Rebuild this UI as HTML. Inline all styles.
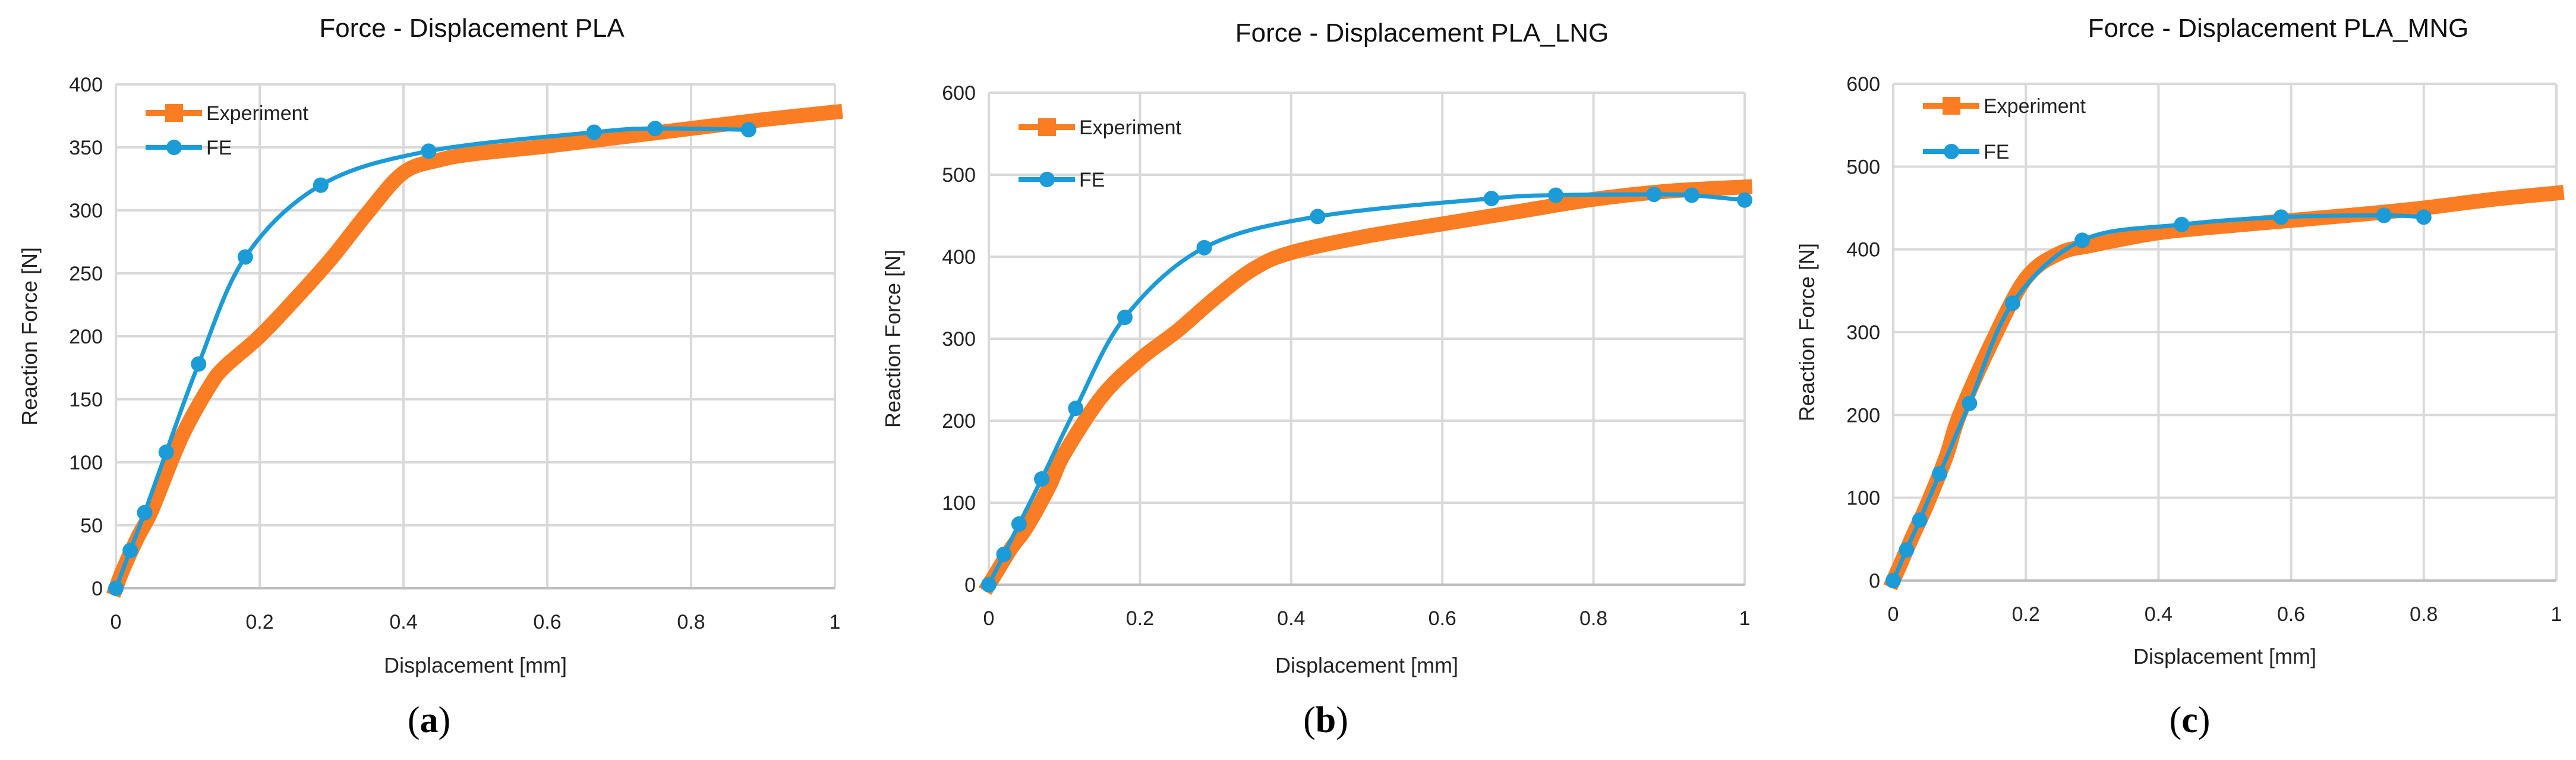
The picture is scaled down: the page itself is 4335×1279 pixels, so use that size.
<!DOCTYPE html>
<html><head><meta charset="utf-8"><style>
html,body{margin:0;padding:0;background:#fff;}
svg{display:block;font-family:"Liberation Sans",sans-serif;}
</style></head><body>
<svg id="fig" width="4335" height="1279" viewBox="0 0 4335 1279" xmlns="http://www.w3.org/2000/svg"></svg>
<script>
// Panel a data
const expA_x = [0,0.01,0.03,0.05,0.08,0.1,0.13,0.15,0.2,0.25,0.3,0.35,0.4,0.45,0.5,0.6,0.7,0.8,0.9,1.0];
const expA_y = [0,15,40,62,105,130,160,175,200,230,262,298,330,340,345,351,358,365,372,378];
const feA_x = [0,0.02,0.04,0.07,0.115,0.18,0.285,0.435,0.665,0.75,0.88];
const feA_y = [0,30,60,108,178,263,320,347,362,365,364];
// Panel b data
const expB_x = [0,0.01,0.03,0.05,0.08,0.1,0.15,0.2,0.25,0.3,0.35,0.4,0.5,0.6,0.7,0.8,0.9,1.0];
const expB_y = [0,15,45,70,120,160,230,275,310,350,385,405,425,440,455,470,480,485];
const feB_x = [0,0.02,0.04,0.07,0.115,0.18,0.285,0.435,0.665,0.75,0.88,0.93,1.0];
const feB_y = [0,37,74,129,215,326,411,449,471,475,476,475,469];
// Panel c data
const expC_x = [0,0.01,0.03,0.05,0.08,0.1,0.15,0.2,0.25,0.3,0.4,0.5,0.6,0.7,0.8,0.9,1.0];
const expC_y = [0,18,55,90,150,200,290,365,395,405,420,428,435,442,450,460,468];
const feC_x = [0,0.02,0.04,0.07,0.115,0.18,0.285,0.435,0.585,0.74,0.8];
const feC_y = [0,37,73,129,214,335,411,430,439,441,439];
// Tick labels
const xTicks = [0,0.2,0.4,0.6,0.8,1];
const yTicksA = [0,50,100,150,200,250,300,350,400];
const yTicksBC = [0,100,200,300,400,500,600];

const NS = "http://www.w3.org/2000/svg";
const svg = document.getElementById('fig');
function mk(tag, attrs, parent){
  const e = document.createElementNS(NS, tag);
  for (const k in attrs) e.setAttribute(k, attrs[k]);
  (parent||svg).appendChild(e);
  return e;
}
function smoothPath(pts){
  let d = `M${pts[0][0]},${pts[0][1]}`;
  for (let i=0;i<pts.length-1;i++){
    const p0=pts[i-1]||pts[i], p1=pts[i], p2=pts[i+1], p3=pts[i+2]||p2;
    const c1x=p1[0]+(p2[0]-p0[0])/6, c1y=p1[1]+(p2[1]-p0[1])/6;
    const c2x=p2[0]-(p3[0]-p1[0])/6, c2y=p2[1]-(p3[1]-p1[1])/6;
    d += ` C${c1x},${c1y} ${c2x},${c2y} ${p2[0]},${p2[1]}`;
  }
  return d;
}
const panels = [
  {id:'a', title:'Force - Displacement PLA', x0:195, x1:1405, yTop:142, yBot:990, yMax:400, yTicks:yTicksA,
   ex:expA_x, ey:expA_y, fx:feA_x, fy:feA_y, titleX:794, titleY:62, yTitleX:62, xTitleY:1132, labelX:722, labelY:1232, l1:48, gap:58},
  {id:'b', title:'Force - Displacement PLA_LNG', x0:1664, x1:2936, yTop:156, yBot:984, yMax:600, yTicks:yTicksBC,
   ex:expB_x, ey:expB_y, fx:feB_x, fy:feB_y, titleX:2393, titleY:70, yTitleX:1515, xTitleY:1132, labelX:2231, labelY:1232, l1:58, gap:88},
  {id:'c', title:'Force - Displacement PLA_MNG', x0:3186, x1:4302, yTop:141, yBot:977, yMax:600, yTicks:yTicksBC,
   ex:expC_x, ey:expC_y, fx:feC_x, fy:feC_y, titleX:3834, titleY:62, yTitleX:3053, xTitleY:1117, labelX:3685, labelY:1232, l1:37, gap:77}
];
panels.forEach(p=>{
  const g = mk('g',{});
  
  
  const sx = v => p.x0 + v*(p.x1-p.x0);
  const sy = v => p.yBot - v/p.yMax*(p.yBot-p.yTop);
  p.yTicks.forEach(t=>{
    const l = mk('line',{x1:p.x0,x2:p.x1,y1:sy(t),y2:sy(t),stroke:'#d9d9d9','stroke-width':4},g);
    
    
    const tx = mk('text',{x:p.x0-22,y:sy(t)+12,'text-anchor':'end','font-size':34,fill:'#222'},g);
    tx.textContent = t;
    
    
  });
  xTicks.forEach(t=>{
    const l = mk('line',{x1:sx(t),x2:sx(t),y1:p.yTop,y2:p.yBot,stroke:'#d9d9d9','stroke-width':4},g);
    
    
    const tx = mk('text',{x:sx(t),y:p.yBot+68,'text-anchor':'middle','font-size':34,fill:'#222'},g);
    tx.textContent = t;
    
    
  });
  const ax = mk('line',{x1:p.x0,x2:p.x1,y1:p.yBot,y2:p.yBot,stroke:'#bfbfbf','stroke-width':4},g);
  
  
  const epts = p.ex.map((v,i)=>[sx(v),sy(p.ey[i])]);
  const ep = mk('path',{d:smoothPath(epts),fill:'none',stroke:'#fb7d23','stroke-width':25,'stroke-linejoin':'round','stroke-linecap':'square'},g);
  
  
  const fpts = p.fx.map((v,i)=>[sx(v),sy(p.fy[i])]);
  const fp = mk('path',{d:smoothPath(fpts),fill:'none',stroke:'#1b9bd7','stroke-width':7},g);
  
  
  fpts.forEach(pt=>{
    const c = mk('circle',{cx:pt[0],cy:pt[1],r:13,fill:'#1b9bd7'},g);
    
    
  });
  const lx = p.x0+50, ly1 = p.yTop + p.l1, ly2 = ly1 + p.gap;
  const lg = mk('g',{},g);
  
  
  mk('line',{x1:lx,x2:lx+95,y1:ly1,y2:ly1,stroke:'#fb7d23','stroke-width':10},lg);
  mk('rect',{x:lx+33,y:ly1-15,width:30,height:30,fill:'#fb7d23'},lg);
  const t1 = mk('text',{x:lx+102,y:ly1+12,'font-size':34,fill:'#222'},lg);
  t1.textContent='Experiment';
  
  
  mk('line',{x1:lx,x2:lx+95,y1:ly2,y2:ly2,stroke:'#1b9bd7','stroke-width':8},lg);
  mk('circle',{cx:lx+48,cy:ly2,r:13,fill:'#1b9bd7'},lg);
  const t2 = mk('text',{x:lx+102,y:ly2+12,'font-size':34,fill:'#222'},lg);
  t2.textContent='FE';
  
  
  const tt = mk('text',{x:p.titleX,y:p.titleY,'text-anchor':'middle','font-size':44,fill:'#111'},g);
  tt.textContent = p.title;
  
  
  const yt = mk('text',{x:p.yTitleX,y:(p.yTop+p.yBot)/2,'text-anchor':'middle','font-size':36,fill:'#222',transform:`rotate(-90 ${p.yTitleX} ${(p.yTop+p.yBot)/2})`},g);
  yt.textContent='Reaction Force [N]';
  
  
  const xt = mk('text',{x:(p.x0+p.x1)/2,y:p.xTitleY,'text-anchor':'middle','font-size':36,fill:'#222'},g);
  xt.textContent='Displacement [mm]';
  
  
  const pl = mk('text',{x:p.labelX,y:p.labelY,'text-anchor':'middle','font-size':62,fill:'#000','font-family':'Liberation Serif, serif'},g);
  pl.innerHTML = '(<tspan font-weight="bold">'+p.id+'</tspan>)';
  
  
});
</script>
</body></html>
